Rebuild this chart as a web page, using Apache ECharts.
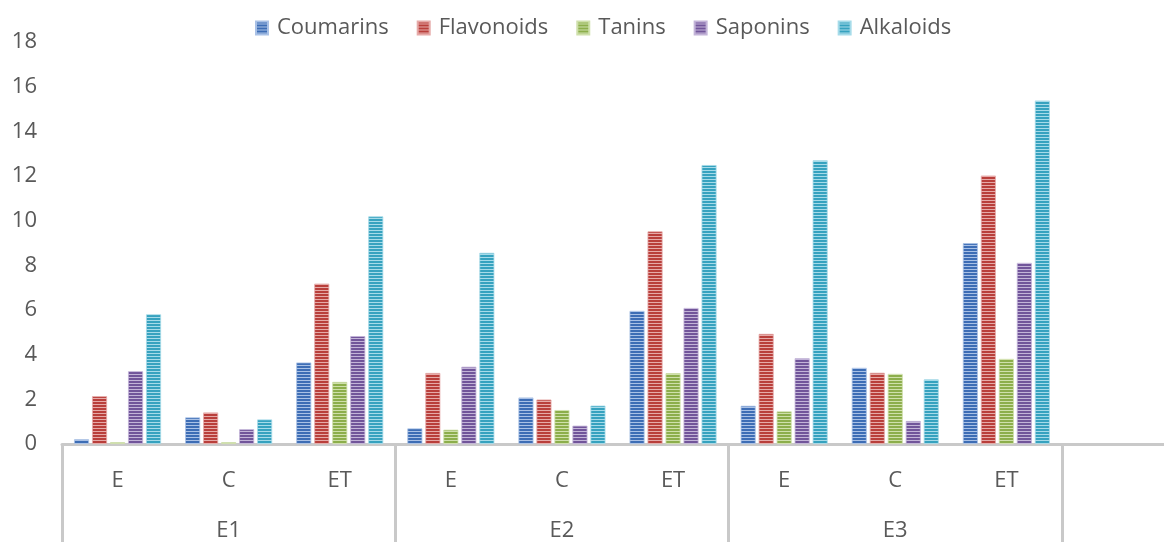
<!DOCTYPE html>
<html>
<head>
<meta charset="utf-8">
<script src="https://cdn.jsdelivr.net/npm/echarts@6/dist/echarts.min.js"></script>
<style>
  html, body { margin: 0; padding: 0; background: #ffffff; overflow: hidden; }
  /* the canvas runs a little past the window so the trailing empty slot keeps its full width */
  #chart { width: 1175px; height: 542px; }
</style>
</head>
<body>
<div id="chart"></div>
<script>
// Sub-categories inside each extract group, and the group labels
const subLabels = ['E', 'C', 'ET'];
const groupLabels = ['E1', 'E2', 'E3'];

// Series names
const seriesNames = ['Coumarins', 'Flavonoids', 'Tanins', 'Saponins', 'Alkaloids'];

// Values per category: E1-E, E1-C, E1-ET, E2-E, E2-C, E2-ET, E3-E, E3-C, E3-ET
const coumarins  = [0.21, 1.19, 3.65, 0.70, 2.08, 5.96, 1.71, 3.41, 8.99];
const flavonoids = [2.14, 1.41, 7.18, 3.18, 1.99, 9.52, 4.93, 3.19, 12.02];
const tanins     = [0.08, 0.08, 2.78, 0.64, 1.52, 3.17, 1.46, 3.14, 3.81];
const saponins   = [3.26, 0.66, 4.83, 3.46, 0.82, 6.09, 3.84, 1.03, 8.11];
const alkaloids  = [5.81, 1.10, 10.19, 8.56, 1.72, 12.49, 12.70, 2.89, 15.38];

// Value axis range
const yMin = 0, yMax = 18, yStep = 2;

// Stripe colours (dark line, light line) for each series
const stripeColors = [
  ['#3d6db5', '#a9c1e6'],
  ['#b93f3b', '#e6aaa8'],
  ['#8cae4b', '#cfe0ab'],
  ['#71559a', '#c3b4d8'],
  ['#36a2bf', '#a6dbe9']
];

// Horizontal-line fill pattern
function stripes(dark, light) {
  const c = document.createElement('canvas');
  c.width = 4; c.height = 3;
  const ctx = c.getContext('2d');
  ctx.fillStyle = light; ctx.fillRect(0, 0, 4, 3);
  ctx.fillStyle = dark;  ctx.fillRect(0, 0, 4, 2);
  return { image: c, repeat: 'repeat' };
}

// Category axis: three sub-categories per group plus one trailing empty slot
const xCats = groupLabels.flatMap(() => subLabels).concat(['']);
const xGroupCats = groupLabels.flatMap(g => ['', g, '']).concat(['']);

const values = [coumarins, flavonoids, tanins, saponins, alkaloids];
const textColor = '#595959';
const fontFamily = '"Open Sans", "Noto Sans", sans-serif';
const axisGrey = '#c9c9c9';

const chart = echarts.init(document.getElementById('chart'), null, { renderer: 'canvas' });

chart.setOption({
  backgroundColor: '#ffffff',
  animation: false,
  textStyle: { fontFamily: fontFamily },
  legend: {
    top: 12,
    left: 250,
    icon: 'rect',
    itemWidth: 12,
    itemHeight: 13,
    itemGap: 28,
    textStyle: { fontSize: 22, color: textColor, fontFamily: fontFamily, padding: [0, 0, 0, 4] },
    data: seriesNames
  },
  grid: { left: 62, right: 2, top: 42, bottom: 94.5, containLabel: false },
  xAxis: [
    {
      type: 'category',
      data: xCats,
      position: 'bottom',
      axisLine: { show: true, lineStyle: { color: axisGrey, width: 3 } },
      axisTick: {
        show: true,
        interval: (idx) => idx % 3 === 0,
        length: 100,
        lineStyle: { color: axisGrey, width: 3 }
      },
      axisLabel: { interval: 0, fontSize: 22, color: textColor, margin: 26, fontFamily: fontFamily },
      splitLine: { show: false }
    },
    {
      type: 'category',
      data: xGroupCats,
      position: 'bottom',
      offset: 50,
      axisLine: { show: false },
      axisTick: { show: false },
      axisLabel: { interval: 0, fontSize: 22, color: textColor, margin: 26, fontFamily: fontFamily },
      splitLine: { show: false }
    }
  ],
  yAxis: {
    type: 'value',
    min: yMin,
    max: yMax,
    interval: yStep,
    axisLine: { show: false },
    axisTick: { show: false },
    splitLine: { show: false },
    axisLabel: { fontSize: 22, color: textColor, margin: 25, fontFamily: fontFamily }
  },
  series: seriesNames.map((name, i) => ({
    name: name,
    type: 'bar',
    xAxisIndex: 0,
    data: values[i],
    barWidth: 15,
    barGap: '20%',
    itemStyle: {
      color: stripes(stripeColors[i][0], stripeColors[i][1]),
      borderColor: stripeColors[i][1],
      borderWidth: 0.8
    }
  }))
});
</script>
</body>
</html>
